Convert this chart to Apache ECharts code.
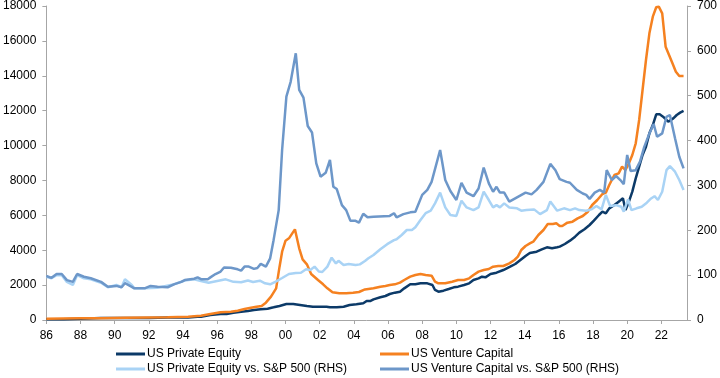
<!DOCTYPE html>
<html>
<head>
<meta charset="utf-8">
<script src="https://cdn.jsdelivr.net/npm/echarts@6/dist/echarts.min.js"></script>
<style>
html,body{margin:0;padding:0;background:#fff;}
#c{width:720px;height:378px;}
</style>
</head>
<body>
<div id="c"></div>
<script>
// Tick years shown on the x axis (labels are two-digit years)
const xTickYears = [1986,1988,1990,1992,1994,1996,1998,2000,2002,2004,2006,2008,2010,2012,2014,2016,2018,2020,2022];

const seriesNames = [
  'US Private Equity',
  'US Venture Capital',
  'US Private Equity vs. S&P 500 (RHS)',
  'US Venture Capital vs. S&P 500 (RHS)'
];

// [year, index value] - left axis
const usPrivateEquity = [
  [1986,40],[1987,50],[1988,70],[1989.2,110],[1990.6,110],[1992,120],[1993.1,140],[1994.3,150],[1994.85,180],
  [1995.05,191],[1995.6,287],[1996.2,344],[1996.55,344],[1996.95,420],[1997.4,478],[1997.8,516],[1998.15,573],
  [1998.55,612],[1998.95,650],[1999.3,726],[1999.65,803],[2000.05,917],[2000.45,917],[2000.85,860],[2001.25,803],
  [2001.6,764],[2002.0,764],[2002.4,764],[2002.6,726],[2003.0,726],[2003.4,764],[2003.75,860],[2004.15,898],
  [2004.55,955],[2004.75,1089],[2004.95,1089],[2005.15,1185],[2005.55,1300],[2005.85,1376],[2006.1,1490],
  [2006.4,1567],[2006.7,1624],[2006.95,1815],[2007.3,2045],[2007.6,2045],[2007.9,2102],[2008.3,2102],[2008.6,2006],
  [2008.75,1720],[2008.95,1624],[2009.25,1682],[2009.55,1777],[2009.85,1873],[2010.1,1911],[2010.45,2006],
  [2010.75,2102],[2011.0,2293],[2011.3,2388],[2011.5,2484],[2011.7,2446],[2012.0,2637],[2012.35,2713],
  [2012.75,2866],[2013.15,3057],[2013.45,3210],[2013.75,3440],[2014.05,3669],[2014.3,3840],[2014.7,3917],
  [2015.0,4051],[2015.3,4166],[2015.6,4108],[2015.9,4166],[2016.05,4204],[2016.35,4357],[2016.65,4548],
  [2016.95,4777],[2017.2,5007],[2017.5,5198],[2017.8,5446],[2018.05,5694],[2018.35,6019],[2018.55,6210],
  [2018.75,6115],[2018.95,6401],[2019.25,6593],[2019.5,6784],[2019.75,6975],[2019.9,6306],[2020.1,6784],
  [2020.3,7357],[2020.5,8121],[2020.7,8790],[2020.9,9459],[2021.1,9936],[2021.3,10700],[2021.5,11178],
  [2021.7,11790],[2021.9,11790],[2022.1,11656],[2022.4,11369],[2022.7,11560],[2022.9,11752],[2023.1,11886],[2023.3,11981]
];

// [year, index value] - left axis
const usVentureCapital = [
  [1986,75],[1987,85],[1988,95],[1989.2,95],[1990.6,133],[1992,145],[1993.1,153],[1994.3,191],[1994.85,229],
  [1995.05,240],[1995.6,344],[1996.2,440],[1996.8,478],[1997.2,535],[1997.6,631],[1997.9,688],[1998.3,764],
  [1998.6,803],[1998.85,993],[1999.15,1338],[1999.45,1815],[1999.65,3057],[1999.8,3917],[2000.0,4548],
  [2000.2,4682],[2000.55,5198],[2000.8,4108],[2001.0,3478],[2001.25,3191],[2001.5,2637],[2001.9,2293],
  [2002.2,2045],[2002.45,1815],[2002.75,1586],[2003.15,1528],[2003.55,1528],[2003.95,1567],[2004.3,1605],
  [2004.65,1750],[2004.95,1790],[2005.15,1815],[2005.55,1911],[2005.85,1949],[2006.1,2006],[2006.4,2045],
  [2006.7,2140],[2006.95,2293],[2007.3,2484],[2007.6,2580],[2007.9,2637],[2008.2,2580],[2008.55,2542],
  [2008.75,2197],[2008.95,2102],[2009.35,2102],[2009.75,2197],[2010.1,2293],[2010.45,2293],[2010.75,2388],
  [2011.0,2580],[2011.3,2771],[2011.6,2866],[2011.9,2924],[2012.15,3057],[2012.45,3096],[2012.75,3096],
  [2013.1,3248],[2013.4,3440],[2013.6,3631],[2013.8,4013],[2014.05,4243],[2014.3,4390],[2014.5,4490],
  [2014.8,4873],[2015.1,5159],[2015.35,5503],[2015.65,5503],[2015.85,5542],[2016.05,5389],[2016.2,5389],
  [2016.5,5580],[2016.8,5637],[2017.1,5828],[2017.4,5962],[2017.7,6210],[2017.95,6593],[2018.25,6879],
  [2018.55,7223],[2018.75,7300],[2018.95,7739],[2019.25,8312],[2019.5,8408],[2019.7,8790],[2019.9,8599],
  [2020.1,8981],[2020.3,9459],[2020.5,10130],[2020.7,11465],[2020.9,13185],[2021.1,14905],[2021.3,16435],
  [2021.5,17387],[2021.7,17926],[2021.85,17962],[2022.05,17580],[2022.25,15667],[2022.45,15192],
  [2022.65,14716],[2022.85,14234],[2023.05,13988],[2023.3,13988]
];

// [year, relative value] - right axis
const usPEvsSP500 = [
  [1986,96.5],[1986.3,93],[1986.6,100],[1986.9,100],[1987.2,85],[1987.55,78],[1987.8,100],[1988.2,93],
  [1988.6,90.7],[1989.2,83],[1989.6,73],[1990.1,78],[1990.4,73],[1990.6,90.7],[1991.0,78],[1991.15,70.6],
  [1991.75,70.6],[1992.5,72],[1993.5,80],[1994.1,88],[1994.65,90.7],[1995.05,87],[1995.5,83],[1996.0,87],
  [1996.5,90.7],[1996.95,85],[1997.4,84],[1997.8,88],[1998.1,84.7],[1998.5,87.6],[1998.8,81.8],[1999.1,79.6],
  [1999.4,85],[1999.8,93.6],[2000.2,102.5],[2000.6,104.8],[2000.9,105.5],[2001.2,113],[2001.45,111.5],
  [2001.7,119],[2001.95,108],[2002.15,107],[2002.45,119],[2002.7,139],[2002.95,126],[2003.1,132],[2003.4,122.6],
  [2003.7,125],[2004.1,122.6],[2004.35,124],[2004.65,131.5],[2004.85,137.5],[2005.15,145],[2005.55,157.6],
  [2005.95,169],[2006.35,178],[2006.5,180],[2006.8,189.5],[2007.1,200.6],[2007.4,200.6],[2007.6,206.6],
  [2007.9,223],[2008.2,238],[2008.5,243.7],[2008.75,260],[2009.05,284],[2009.35,251],[2009.65,234],
  [2010.0,232],[2010.3,266],[2010.6,251],[2011.0,245],[2011.3,251],[2011.6,286],[2011.9,267.5],[2012.15,251],
  [2012.35,256],[2012.55,251],[2012.8,260],[2013.1,251],[2013.55,249],[2013.8,243.7],[2014.1,245],
  [2014.55,246.6],[2014.9,236],[2015.3,245],[2015.5,264],[2015.9,243.7],[2016.3,249],[2016.65,245],
  [2016.95,249],[2017.2,245],[2017.6,243.7],[2017.9,246.6],[2018.2,254],[2018.5,246.6],[2018.75,279],
  [2019.0,254],[2019.35,256],[2019.65,252.6],[2019.8,241.5],[2020.05,269],[2020.25,245],[2020.55,249],
  [2020.85,252.6],[2021.15,261.5],[2021.4,271],[2021.6,276],[2021.8,267.5],[2022.05,286],[2022.3,334],
  [2022.5,343],[2022.8,330.6],[2023.05,312],[2023.3,290]
];

// [year, relative value] - right axis
const usVCvsSP500 = [
  [1986,98],[1986.3,94],[1986.6,102.5],[1986.9,102.5],[1987.2,89],[1987.55,85],[1987.65,83],[1987.8,102.5],
  [1988.2,96.5],[1988.6,93],[1989.2,85],[1989.6,74],[1990.1,76],[1990.4,73],[1990.6,82],[1991.0,74],
  [1991.15,70.6],[1991.75,70.6],[1992.1,76],[1992.5,74],[1993.1,73],[1993.5,80],[1993.9,85],[1994.1,89],
  [1994.65,92],[1994.85,95],[1995.05,91],[1995.45,91],[1995.6,95],[1995.9,102.5],[1996.2,108],[1996.4,117],
  [1996.8,116.5],[1997.2,113],[1997.4,110],[1997.6,119],[1997.85,119],[1998.15,114],[1998.35,116],
  [1998.55,125],[1998.85,119],[1999.1,137.5],[1999.3,178],[1999.6,245],[1999.8,379],[2000.05,498],
  [2000.3,531],[2000.6,594.5],[2000.8,513],[2001.05,495.6],[2001.3,432.5],[2001.55,418],[2001.8,349],
  [2002.05,319.5],[2002.35,328],[2002.6,356.7],[2002.8,297],[2003.0,292],[2003.3,256],[2003.55,245],
  [2003.8,221],[2004.1,221],[2004.3,217],[2004.55,237],[2004.8,229],[2005.15,230],[2006.1,232],[2006.35,238],
  [2006.5,229],[2006.9,236],[2007.3,240],[2007.6,241.5],[2008.0,279],[2008.3,290],[2008.55,308],[2009.05,379],
  [2009.35,312],[2009.65,287.6],[2010.0,267.5],[2010.3,306],[2010.6,284],[2011.0,276],[2011.3,293],
  [2011.6,339.6],[2011.9,304.7],[2012.15,286],[2012.35,297],[2012.55,284],[2012.8,284],[2013.1,264],
  [2013.55,273.5],[2014.05,284],[2014.4,280],[2014.7,290],[2015.1,308],[2015.5,348],[2015.8,334],
  [2016.05,314],[2016.45,308],[2016.65,306],[2017.05,290],[2017.4,282],[2017.6,279],[2017.8,270],
  [2018.1,284],[2018.4,290],[2018.65,284],[2018.8,334],[2019.1,312],[2019.35,321],[2019.6,312],[2019.8,303],
  [2020.0,368],[2020.2,332],[2020.5,334],[2020.75,353],[2021.0,386],[2021.3,416],[2021.55,437],
  [2021.75,408.6],[2022.05,416],[2022.3,453],[2022.5,457],[2022.8,405],[2023.05,364],[2023.3,338]
];

const colors = ['#0c3a68', '#f58120', '#a9d3f5', '#6d97c9'];
const FONT = '"Liberation Sans", Arial, sans-serif';
const axisGrey = '#a6a6a6';

const chart = echarts.init(document.getElementById('c'), null, {renderer: 'canvas'});

function legendAt(name, left, top) {
  return {
    data: [name], left: left, top: top, padding: 0, orient: 'horizontal',
    icon: 'rect', itemWidth: 29, itemHeight: 3, itemGap: 0,
    textStyle: {fontFamily: FONT, fontSize: 12, color: '#000', padding: [0,0,0,-3]},
    selectedMode: false
  };
}

const option = {
  animation: false,
  color: colors,
  grid: {left: 45, right: 33, top: 6, bottom: 58, containLabel: false},
  legend: [
    legendAt(seriesNames[0], 116, 348),
    legendAt(seriesNames[1], 380, 348),
    legendAt(seriesNames[2], 116, 363),
    legendAt(seriesNames[3], 380, 363)
  ],
  xAxis: {
    type: 'value', min: 1986, max: 2023.5,
    axisLine: {show: true, lineStyle: {color: axisGrey, width: 1}},
    axisTick: {show: true, length: 4, lineStyle: {color: axisGrey}, customValues: xTickYears},
    axisLabel: {
      customValues: xTickYears,
      fontFamily: FONT, fontSize: 12, color: '#000', margin: 10,
      formatter: v => String(Math.round(v) % 100).padStart(2, '0')
    },
    splitLine: {show: false}
  },
  yAxis: [
    {
      type: 'value', min: 0, max: 18000, interval: 2000, position: 'left',
      axisLine: {show: true, lineStyle: {color: axisGrey}},
      axisTick: {show: true, length: 4, lineStyle: {color: axisGrey}},
      axisLabel: {fontFamily: FONT, fontSize: 12, color: '#000', margin: 10, formatter: v => String(v)},
      splitLine: {show: false}
    },
    {
      type: 'value', min: 0, max: 700, interval: 100, position: 'right',
      axisLine: {show: true, lineStyle: {color: axisGrey}},
      axisTick: {show: true, length: 4, lineStyle: {color: axisGrey}},
      axisLabel: {fontFamily: FONT, fontSize: 12, color: '#000', margin: 10, formatter: v => String(v)},
      splitLine: {show: false}
    }
  ],
  series: [
    {name: seriesNames[0], type: 'line', yAxisIndex: 0, data: usPrivateEquity},
    {name: seriesNames[1], type: 'line', yAxisIndex: 0, data: usVentureCapital},
    {name: seriesNames[2], type: 'line', yAxisIndex: 1, data: usPEvsSP500},
    {name: seriesNames[3], type: 'line', yAxisIndex: 1, data: usVCvsSP500}
  ].map(s => Object.assign(s, {
    showSymbol: false, symbol: 'none', smooth: false,
    lineStyle: {width: 2.5}, emphasis: {disabled: true}
  }))
};

chart.setOption(option);
</script>
</body>
</html>
